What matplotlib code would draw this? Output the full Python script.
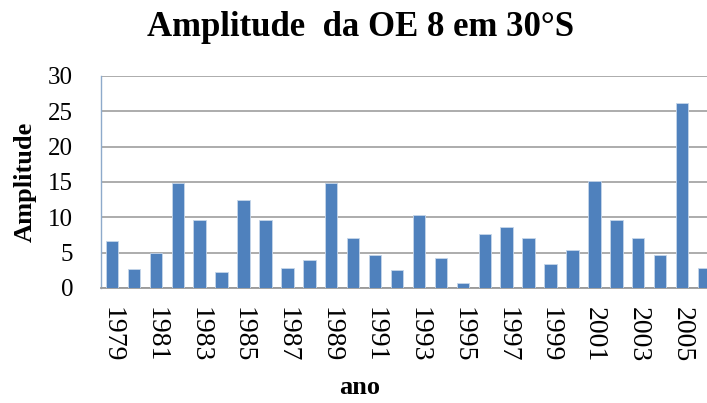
import matplotlib
matplotlib.use('Agg')
from matplotlib import pyplot as plt

years = list(range(1979, 2007))
amplitude = [6.7, 2.7, 5.0, 14.8, 9.6, 2.3, 12.5, 9.6, 2.9, 3.9,
             14.9, 7.1, 4.7, 2.5, 10.3, 4.3, 0.7, 7.6, 8.7, 7.1,
             3.4, 5.4, 15.1, 9.6, 7.1, 4.7, 26.2, 2.9]
yticks = [0, 5, 10, 15, 20, 25, 30]

bar_color = '#4F81BD'
grid_color = '#a6a6a6'

plt.rcParams['font.family'] = ['Liberation Serif', 'DejaVu Serif']

fig = plt.figure(figsize=(7.07, 4.03), dpi=100)
# plot area runs a little past the right edge, as in the exported chart
ax = fig.add_axes([101 / 707, 115 / 403, 614 / 707, 212 / 403])

x = list(range(len(years)))
ax.bar(x, amplitude, width=0.57, color=bar_color, edgecolor='#c6d6ea', linewidth=0.6, zorder=3)

ax.set_xlim(-0.5, len(years) - 0.5)
ax.set_ylim(0, 30)
ax.set_yticks(yticks)
ax.set_yticklabels([str(v) for v in yticks], fontsize=18)
ax.yaxis.grid(True, color=grid_color, linewidth=1.3)
ax.set_axisbelow(True)

ax.set_xticks(x[::2])
ax.set_xticklabels([str(y) for y in years[::2]], rotation=270, fontsize=20,
                   va='top', ha='center')

ax.tick_params(axis='both', length=0)
ax.tick_params(axis='y', pad=20)
ax.tick_params(axis='x', pad=13.5)

for side in ['top', 'right']:
    ax.spines[side].set_visible(False)
ax.spines['left'].set_color('#8eaacb')
ax.spines['left'].set_linewidth(1.0)
ax.spines['bottom'].set_color('#9a9a9a')
ax.spines['bottom'].set_linewidth(1.3)

fig.text(361 / 707, 1 - 27 / 403, 'Amplitude  da OE 8 em 30°S', fontsize=25,
         fontweight='bold', ha='center', va='center')
fig.text(25 / 707, 1 - 182 / 403, 'Amplitude', rotation=90, fontsize=19,
         fontweight='bold', ha='center', va='center')
fig.text(360 / 707, 1 - 387 / 403, 'ano', fontsize=19,
         fontweight='bold', ha='center', va='center')

plt.savefig('out.png', dpi=100, facecolor='white')
plt.close()
